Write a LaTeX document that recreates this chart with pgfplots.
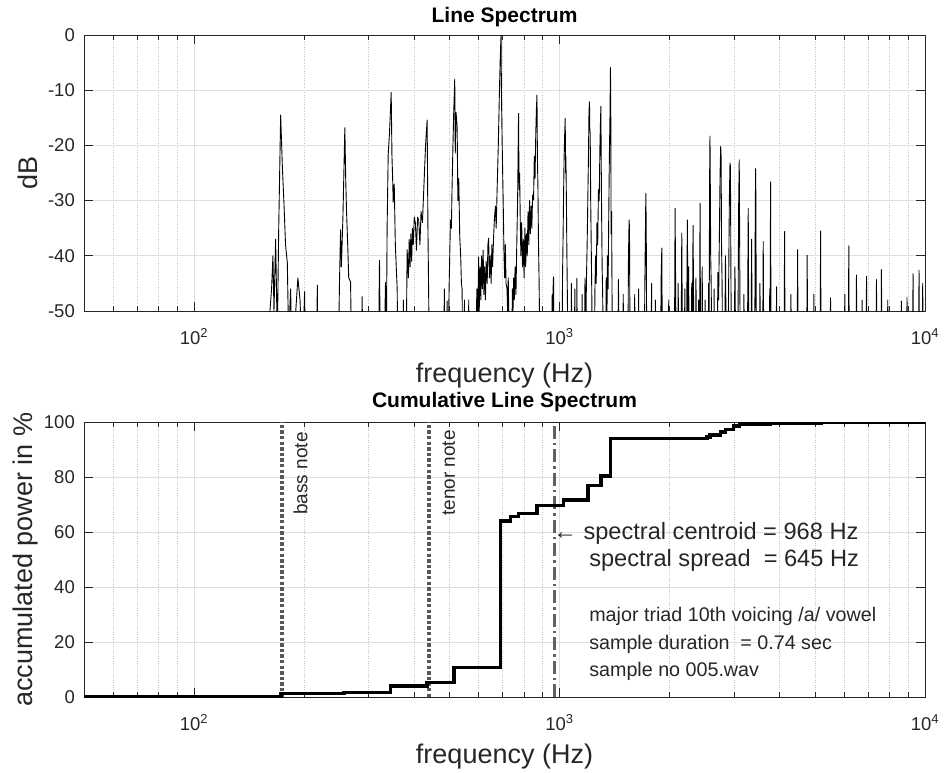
\documentclass[border=0pt]{standalone}
\usepackage{pgfplots}
\pgfplotsset{compat=1.18}
\usepackage{fontspec}
\setmainfont{Liberation Sans}
\definecolor{axcol}{HTML}{262626}
\definecolor{gridcol}{HTML}{DFDFDF}
\definecolor{mgridcol}{HTML}{C4C4C4}
\definecolor{markcol}{HTML}{585858}
\pgfplotsset{
  specaxis/.style={
    scale only axis, width=841pt,
    xmin=50, xmax=10000,
    xtick={100,1000,10000},
    xticklabels={10\textsuperscript{2},10\textsuperscript{3},10\textsuperscript{4}},
    minor xtick={60,70,80,90,200,300,400,500,600,700,800,900,2000,3000,4000,5000,6000,7000,8000,9000},
    grid=both,
    major grid style={color=gridcol, line width=0.8pt},
    minor grid style={color=mgridcol, dotted, line width=0.8pt},
    axis line style={color=axcol, line width=0.8pt},
    tick style={color=axcol, line width=0.8pt},
    major tick length=9pt, minor tick length=5pt,
    xtick pos=both, ytick pos=both, tick align=inside,
    tick label style={font=\fontsize{18.5}{21}\selectfont, text=axcol},
    xticklabel style={anchor=base, yshift=-33pt, inner sep=0pt},
    yticklabel style={anchor=east, xshift=-9pt, inner sep=0pt, /pgf/number format/assume math mode=true},
    label style={font=\fontsize{27}{30}\selectfont, text=axcol},
    title style={font=\bfseries\fontsize{21}{24}\selectfont, at={(axis description cs:0.5,1)}, anchor=base},
  }
}
\begin{document}
\begin{tikzpicture}
\useasboundingbox (0pt,0pt) rectangle (945pt,-772pt);
% ---------------- top: line spectrum
\begin{axis}[xmode=log, specaxis, at={(84pt,-311pt)}, anchor=south west, height=276pt,
  ymin=-50, ymax=0, ytick={-50,-40,-30,-20,-10,0},
  title={Line Spectrum}, title style={yshift=7pt},
  xlabel={frequency (Hz)}, ylabel={dB},
  xlabel style={at={(axis description cs:0.5,0)}, anchor=base, yshift=-71pt},
  ylabel style={at={(axis description cs:-0.0559,0.5)}, anchor=base, rotate=0}]
\addplot[black, line width=0.9pt, line join=round] coordinates {
(50,-60) (158,-60)
(160.5,-52) (163,-46) (164.4,-40) (165.5,-50) (167.2,-37) (169,-55) (170.5,-35) (172.6,-14.5) (174.5,-24) (176.2,-30.4) (178,-38) (180,-41.3) (181.5,-55) (183.8,-46) (185.5,-60) (189,-52) (192.4,-44) (195,-48) (198,-60) (200.7,-46.5) (201.8,-60) (216.5,-60) (217.4,-45.3) (218.5,-60)
(248,-60) (250,-45) (251.7,-35.3) (253,-42) (255.5,-33) (258.6,-16.8) (260,-26) (261.4,-32) (263,-37) (265,-44) (268.1,-44.7) (270,-60) (287.5,-60) (288.5,-47.4) (289.5,-60)
(319.5,-60) (321.7,-40.8) (323.5,-60) (331,-60) (334.1,-44.8) (336,-55) (337.5,-35) (339.8,-21.7) (342.5,-18) (344.5,-14) (346.3,-10.4) (348,-22) (349.5,-26) (350.7,-30.3) (353,-27) (355.5,-38) (357.5,-42) (359.6,-45.9) (361.5,-60) (372,-60) (374,-48) (376,-60)
(381,-55) (382.9,-38.9) (386,-44) (388,-37) (390,-42) (392,-36) (394,-41) (396,-35) (398,-38) (400.5,-33) (403.4,-34.1) (406,-39) (409,-33) (411.9,-33.6) (415,-38) (418,-32) (421.7,-34) (424,-29.9) (427,-25) (430,-20) (434.3,-15.4) (436.5,-35) (439,-50) (441,-60)
(482,-60) (484,-46) (486,-60) (490,-60) (492.6,-48.2) (495,-60) (499,-45) (503,-33.5) (506,-35) (508,-28) (511,-20) (513.5,-14) (516.8,-8.0) (518.5,-21.4) (521,-14) (524.7,-16.6) (527,-30) (530,-26) (533.3,-36.5) (536.5,-40) (539,-45) (541.4,-46) (543,-60) (548,-60) (549.5,-48) (551,-60) (563,-60) (564.4,-48) (566,-60)
(590,-60) (594,-46) (597,-52) (600.9,-40.2) (603,-50) (606,-42) (609,-48) (612,-40) (615,-46) (618,-39) (621,-47) (624,-42) (627,-48) (630,-41) (634,-45) (637,-38) (639.8,-36.8) (643,-44) (646,-40) (650,-45) (653,-38) (656,-42) (660.2,-36.5) (664,-33) (668,-31) (671,-35) (675,-28) (680,-20) (685,-10) (688.5,-4) (691.9,0) (693.5,-10) (696.3,-18.4) (699,-25) (702,-32) (705,-40) (708,-44) (711,-38) (714,-45) (718.5,-46) (721,-50) (724,-44) (727,-52) (730,-60)
(740,-60) (743,-46) (746,-50) (749,-44) (752,-48) (756,-42) (760,-47) (764,-38) (768,-30) (772.7,-14.2) (775,-28) (778,-25) (780.9,-33.5) (784,-40) (788,-34) (792,-42) (796,-37) (800,-44) (804,-35) (808,-42) (812,-36) (816,-40) (820,-32) (824,-38) (828,-30) (832,-36) (836,-31) (840,-35) (844,-29) (849.1,-29.9) (853,-22) (857,-26) (861,-18) (864,-14) (867.5,-10.9) (870,-22) (873,-28) (876,-38) (879,-44) (882,-52) (885,-60)
(950,-60) (955,-47) (958,-60) (961,-45) (963,-43.8) (966,-60) (995,-60) (998,-50) (1001,-60)
(1016,-60) (1019,-44) (1022,-38) (1025.4,-30) (1029,-22.5) (1033,-18) (1036.5,-15.1) (1039,-25) (1041,-22) (1044,-29.3) (1047.7,-40) (1051,-48) (1056,-60) (1075,-60) (1078,-45) (1081,-60) (1098,-60) (1101,-46) (1104,-60) (1112,-60) (1115.6,-44.1) (1119,-60)
(1150,-60) (1153,-47) (1156,-60) (1170,-60) (1174,-44) (1178,-58) (1185,-44) (1190,-38) (1195,-30) (1200,-22) (1204,-14) (1207.8,-12.1) (1210,-17) (1213.2,-17.8) (1217,-30) (1221,-38) (1225,-46) (1230,-60)
(1245,-60) (1250,-46) (1255,-40) (1260,-45) (1266,-34) (1272,-38) (1278,-28) (1284,-30) (1290,-20) (1294,-16) (1297.7,-12.9) (1300,-22) (1304,-33) (1308,-42) (1313,-48) (1318,-60)
(1338,-60) (1342,-44) (1347,-55) (1352,-40) (1358,-46) (1363,-34) (1369,-22) (1374,-15) (1378.4,-5.9) (1381,-12.2) (1384,-36) (1388,-32) (1392,-46) (1396,-60)
(1443,-60) (1449.6,-44.3) (1456,-60) (1490,-60) (1494,-47) (1498,-60)
(1538,-60) (1544,-40) (1550.3,-33.5) (1554,-35) (1560,-60) (1602,-60) (1606,-47) (1611,-60) (1640,-60) (1646,-46) (1652,-60)
(1705,-60) (1712,-45) (1722.5,-28.7) (1727,-35) (1733,-60) (1780,-60) (1786,-45) (1792,-60) (1825,-60) (1830,-48) (1836,-60)
(1890,-60) (1897,-44) (1905,-38.6) (1912,-60) (1985,-60) (1990,-48) (1996,-60)
(2062,-60) (2071.1,-31.4) (2078,-45) (2086,-60) (2105,-60) (2112,-45) (2120,-60) (2150,-60) (2160.2,-35.9) (2170,-60) (2195,-60) (2202,-46) (2210,-60) (2225,-60) (2230,-48) (2237.6,-33.5) (2245,-50) (2255,-42) (2265,-60) (2290,-60) (2300,-45) (2310,-52) (2319.4,-34.5) (2328,-50) (2340,-60) (2355,-60) (2362,-44) (2372,-60) (2395,-60) (2402,-48) (2410,-60) (2415,-60) (2423.7,-30.5) (2432,-60) (2450,-60) (2457,-42) (2465,-60) (2495,-60) (2502,-48) (2510,-60) (2550,-60) (2558,-45) (2566,-60) (2570,-40) (2575,-25) (2580.2,-18.3) (2586,-28) (2592,-40) (2600,-45) (2610,-60)
(2640,-60) (2648,-46) (2656,-60) (2700,-60) (2712,-43) (2725,-48) (2738,-36) (2750,-25) (2760.4,-20.2) (2768,-22) (2775,-38) (2785,-45) (2795,-60)
(2830,-60) (2845,-40) (2860,-60) (2890,-60) (2905,-42) (2915,-30) (2927,-23.2) (2935,-23.8) (2945,-45) (2958,-60) (3000,-60) (3020,-42) (3035,-60) (3075,-60) (3090,-32) (3102.7,-22.6) (3110,-35) (3122,-60)
(3180,-60) (3195,-47) (3210,-60) (3265,-60) (3283.4,-31.4) (3298,-60) (3340,-60) (3354.4,-37) (3368,-60) (3420,-60) (3432,-33) (3439.7,-24.2) (3446,-30) (3456,-60) (3520,-60) (3535,-45) (3550,-60) (3595,-60) (3609,-37.4) (3622,-60)
(3750,-60) (3760,-46) (3768,-60) (3772,-42) (3781,-26.6) (3790,-60) (3912,-60) (3926,-45.6) (3940,-60) (4115,-60) (4128,-35.6) (4142,-60) (4280,-60) (4297,-47) (4312,-60) (4468,-60) (4482,-38.9) (4497,-60) (4745,-60) (4760,-39.9) (4776,-60) (4948,-60) (4965,-47) (4982,-60) (5162,-60) (5179,-35.5) (5196,-60) (5495,-60) (5514,-47.6) (5533,-60) (6014,-60) (6034,-47) (6054,-60) (6167,-60) (6187,-38.2) (6207,-60) (6472,-60) (6493,-43.5) (6514,-60) (6710,-60) (6730,-48) (6750,-60) (6896,-60) (6918,-43.7) (6940,-60) (7343,-60) (7366,-44.3) (7389,-60) (7577,-60) (7601,-42.5) (7625,-60) (7885,-60) (7909,-48) (7933,-60) (8592,-60) (8619,-48.2) (8646,-60) (8900,-60) (8928,-47.5) (8956,-60) (9244,-60) (9273,-43.2) (9302,-60) (9600,-60) (9630,-42.6) (9660,-60) (9826,-60) (9856,-45) (9886,-60) (10000,-60)
};
\end{axis}
% ---------------- bottom: cumulative line spectrum
\begin{axis}[xmode=log, specaxis, at={(84pt,-697pt)}, anchor=south west, height=275pt,
  ymin=0, ymax=100, ytick={0,20,40,60,80,100},
  title={Cumulative Line Spectrum}, title style={yshift=9pt},
  xlabel={frequency (Hz)}, ylabel={accumulated power in \%},
  xlabel style={at={(axis description cs:0.5,0)}, anchor=base, yshift=-66pt},
  ylabel style={at={(axis description cs:-0.0618,0.5)}, anchor=base, rotate=0}]
\addplot[markcol, line width=4pt, dash pattern=on 3.4pt off 2.2pt] coordinates {(174.6,0) (174.6,100)};
\addplot[markcol, line width=4pt, dash pattern=on 3.4pt off 2.2pt] coordinates {(440,0) (440,100)};
\addplot[color=black!62, line width=2.6pt, dash pattern=on 13pt off 4pt on 2.5pt off 4pt] coordinates {(968,0) (968,100)};
\addplot[black, line width=3.4pt, const plot] coordinates {
(50,0.2) (173,1.2) (257,1.7) (345,4.0) (434,5.2) (514,10.7) (690,64.0) (735,65.6) (773,66.8) (867,69.6) (1025,71.6) (1197,76.9) (1300,80.3) (1378,93.9) (2530,94.6) (2580,95.3) (2760,96.4) (2850,97.3) (2990,98.5) (3110,99.3) (3770,99.7) (5200,100) (10000,100)
};
\node[rotate=90, anchor=east, inner sep=0pt, text=axcol, font=\fontsize{19}{22}\selectfont] at (axis cs:195.7,96.3) {bass note};
\node[rotate=90, anchor=east, inner sep=0pt, text=axcol, font=\fontsize{19}{22}\selectfont] at (axis cs:497.5,97.1) {tenor note};
\node[anchor=base west, inner sep=0pt, text=axcol, font=\fontsize{23.6}{28}\selectfont] at (axis cs:961,57.1) {← spectral centroid = 968 Hz};
\node[anchor=base west, inner sep=0pt, text=axcol, font=\fontsize{23.6}{28}\selectfont] at (axis cs:1205,47.4) {spectral spread\ \ = 645 Hz};
\node[anchor=base west, inner sep=0pt, text=axcol, font=\fontsize{19.7}{23}\selectfont] at (axis cs:1205,27.4) {major triad 10th voicing /a/ vowel};
\node[anchor=base west, inner sep=0pt, text=axcol, font=\fontsize{19.7}{23}\selectfont] at (axis cs:1205,17.3) {sample duration\ \ = 0.74 sec};
\node[anchor=base west, inner sep=0pt, text=axcol, font=\fontsize{19.7}{23}\selectfont] at (axis cs:1205,7.4) {sample no 005.wav};
\end{axis}
\end{tikzpicture}
\end{document}
